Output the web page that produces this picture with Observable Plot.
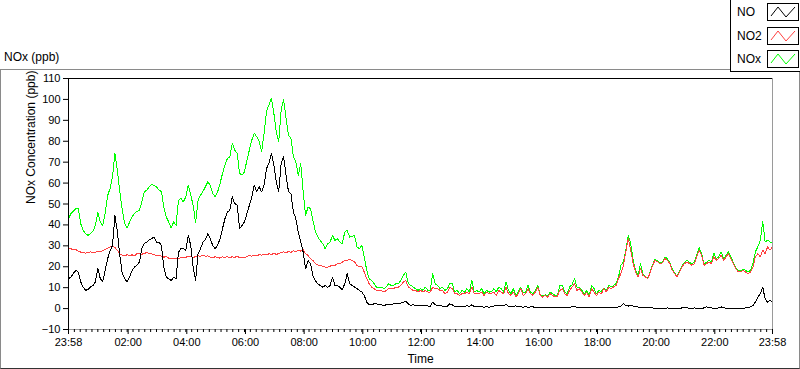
<!DOCTYPE html>
<html><head><meta charset="utf-8">
<script src="https://cdn.jsdelivr.net/npm/d3@7"></script>
<script src="https://cdn.jsdelivr.net/npm/@observablehq/plot@0.6"></script>
<style>
body{margin:0;background:#fff;font-family:"Liberation Sans",Arial,sans-serif;color:#000;}
#wrap{position:relative;width:800px;height:369px;overflow:hidden;background:#fff;}
#frame{position:absolute;left:0;top:69px;width:798px;height:298px;border-top:1px solid #8a8a8a;border-left:1px solid #8a8a8a;border-right:1px solid #8a8a8a;border-bottom:1px solid #333;}
#title{position:absolute;left:4px;top:50px;font-size:12px;}
#chart{position:absolute;left:0;top:69px;}
#legend{position:absolute;left:730px;top:0;width:70px;height:71px;border-left:1px solid #000;border-bottom:1px solid #000;background:#fff;}
.li{position:absolute;left:6px;font-size:12px;}
.lb{position:absolute;left:36px;width:30px;height:16px;border:1px solid #000;background:#fff;}
</style></head><body>
<div id="wrap">
  <div id="frame"></div>
  <div id="title">NOx (ppb)</div>
  <div id="chart"></div>
  <div id="legend"></div>
</div>
<script>
// time grid: samples every 5 minutes starting 23:58, over 24 h
const startLabel = "23:58";
const stepMinutes = 5;

const seriesNames = ["NO", "NO2", "NOx"];
const seriesColors = ["#000000", "#ff4040", "#00ff00"];

const NO = [
 14.3,15,17,18.2,17.5,12.7,10.3,8.7,9.2,10.3,
 11,12.7,19.3,14.3,13,18.2,23.8,27.5,30.2,44.6,
 36.6,25.4,16.6,14.3,12.7,15,18.2,19.9,20.7,22.3,
 28.7,31,31.8,33,33.4,34.2,31.8,31.8,30.2,19.9,
 15,14.3,13.4,15,14.3,27,28.6,28.6,27.8,35,
 30.2,19.9,13.4,26.2,28.6,31.8,33,35.8,
 33.4,30.2,28.6,30.2,33.4,38.2,43,46.2,47,53.4,
 50.2,49.4,38.2,39.8,41.4,45.4,49.4,53.4,59,55.8,
 58.2,55.8,59,67,69.4,74.2,68.6,60.6,55.8,69.4,
 72.6,63.8,55.8,55,46.2,43,36.6,31.8,27,19,
 23,21.4,15.8,13.4,11.8,11,10.2,11,10.2,11,
 15,11,11,10.2,9,11.8,16.6,11.8,
 11.1,10.3,9.5,8.7,7.9,6.3,3.1,1.8,1.8,2.3,
 2.3,1.8,1.8,1.5,1.8,2.2,1.8,2.3,2.2,2.3,
 2.6,3.1,3.4,2.3,1.5,1.8,1.5,1.2,1.5,1.2,
 1.5,1.2,1.2,3.1,1.8,1.5,1.5,1.2,0.9,1.2,
 2.3,1.8,0.9,1.2,0.9,1.2,0.9,1.5,0.9,1.8,
 0.9,0.9,1.2,0.9,0.6,0.9,0.7,0.8,
 1.2,1.5,1.5,1.2,1.5,2,1,0.8,1,1.3,
 1,0.8,0.7,1,0.6,0.8,0.8,0.6,0.7,0.5,
 0.6,0.5,0.5,0.6,0.4,0.5,0.7,0.5,0.4,0.5,
 0.5,0.6,0.8,1.2,0.5,0.5,0.4,0.3,0.4,0.3,
 0.4,0.6,0.4,0.3,0.5,0.4,0.3,0.4,0.5,0.4,
 0.6,0.8,1.2,2.3,1.5,1.2,
 1.5,1.2,1.0,0.8,0.5,0.4,0.3,0.3,0.3,0.3,
 0.2,0.2,0.2,0.2,0.2,0.3,0.2,0.2,0.2,0.2,
 0.2,0.3,0.5,0.4,0.2,0.2,0.3,0.2,0.2,0.2,
 0.3,0.8,0.4,0.3,0.2,0.2,0.3,0.8,0.4,0.2,
 0.2,0.2,0.2,0.2,0.2,0.2,0.2,0.3,0.5,0.8,
 1.5,3.1,5.5,7.1,10.3,4.5,3.1,3.9,3.1
];

const NO2 = [
 28.9,28.6,28.0,28.2,27.5,27.0,26.9,26.5,26.8,27.1,
 26.6,27.0,27.2,27.3,27.6,28.3,28.8,29.4,29.9,29.3,
 27.8,26.2,25.6,25.2,25.8,25.3,25.7,25.2,26.2,26.4,
 26.0,26.3,26.8,26.4,26.1,25.8,25.3,25.5,25.0,24.6,
 24.8,24.1,23.8,24.0,24.2,23.7,24.4,24.6,24.5,25.1,
 24.9,24.5,24.8,25.2,25.0,25.5,25.0,25.2,
 24.6,24.2,24.8,24.5,24.1,24.7,24.4,24.9,24.3,24.8,
 24.5,25.0,24.4,24.7,24.2,24.9,25.3,25.0,25.6,25.2,
 25.8,25.5,26.0,25.7,26.2,25.8,26.5,25.9,26.3,26.8,
 27.2,26.6,27.4,26.9,27.6,27.2,28.0,27.5,28.4,26.2,
 25.4,23.8,23.0,21.4,20.9,20.6,20.3,19.8,19.8,20.3,
 20.6,20.6,21.4,21.4,22.2,23.0,23.0,23.5,
 23.1,22.3,20.7,19.9,19.9,17.5,14.3,11.9,10.3,9.5,
 8.7,8.7,8.7,7.9,8.7,9.5,9.5,9.5,10.3,10.3,
 11.1,12.7,13.5,10.3,9.5,8.7,8.7,7.9,8.7,7.9,
 8.7,7.9,7.9,10.3,9.5,9.5,8.7,8.7,7.1,7.9,
 10.3,9.5,7.1,7.1,6.3,7.1,7.1,7.9,7.1,10.3,
 7.1,7.1,7.1,7.9,6.3,7.9,7.1,7.3,
 7.9,6.3,8.7,7.9,7.1,10.3,7.1,6.3,7.9,5.5,
 7.1,9.5,6.3,7.1,9.5,7.1,6.3,7.9,10.3,6.3,
 5.5,6.3,5.5,7.1,6.3,5.5,6.0,8.7,9.5,7.1,
 6.3,8.7,10.3,11.9,8.7,9.5,7.9,6.3,7.9,5.5,
 9.5,7.9,6.3,7.9,7.1,9.5,7.9,10.3,9.5,10.3,
 11.1,14.3,16.7,20.7,27.1,33.5,
 27.9,21.5,17.5,15.1,19.1,15.9,15.1,14.3,17.5,20.7,
 23.1,22.3,21.5,21.8,23.9,23.1,21.5,18.3,16.7,15.1,
 17.5,19.9,21.5,22.3,21.5,20.7,21.5,24.7,27.9,25.5,
 20.7,21.5,22.3,21.5,24.7,23.1,23.9,25.5,23.1,24.7,
 26.3,23.9,21.5,19.1,17.5,17.5,18.3,17.5,16.7,17.5,
 19.9,24.7,26.3,24.7,27.9,26.3,29.5,28.0,29.5
];

const NOx = [
 43,45.4,46.5,47.8,48,40.6,37.4,35.8,35,35.8,
 37,39.8,46,41.4,39.8,45.4,54,57.4,63,74.2,
 66,55.8,47,40.6,38.5,41.4,43.8,45.4,46.5,47,
 51,55.8,56.6,58.2,59.3,59,58.2,56.6,56,48.6,
 43.8,41.4,38.5,41.4,39.8,51.8,52.6,51,53.4,59,
 54.2,49.4,41,51.8,54.2,56,58.2,60.6,
 59,55,53.4,55.8,59.8,64.6,68.6,71.8,72.6,79,
 75.8,74.2,64.6,63.8,65.4,71,75.8,80.6,83.8,82.2,
 79.8,75,83.8,94.2,97.4,100.6,93.4,84.6,79.8,95,
 99.8,91,83,81.4,72.6,70.2,63.8,69.4,55.8,44.6,
 48.6,47.8,42.2,36.6,34.2,32.6,31,28.6,31,31.8,
 35,32.6,33.4,31.8,31,36.6,37.4,34.2,
 34.3,35.1,29.5,28.7,30.3,24.7,18.3,14.3,13.5,11.9,
 10.3,10.3,10.3,9.5,10.3,11.9,11.1,11.1,11.9,11.9,
 13.5,15.9,17.5,11.9,11.1,10.3,9.5,8.7,9.5,8.7,
 10.3,8.7,8.7,16.7,11.9,11.1,9.5,10.3,8.7,9.5,
 11.9,11.9,7.9,8.7,7.1,8.7,7.9,9.5,7.9,13.5,
 7.9,8.7,7.9,9.5,7.1,8.7,7.9,8,
 9.5,7.9,10.3,9.5,7.9,12.7,8.7,7.1,9.5,6.3,
 7.9,10.3,7.9,7.9,11.1,7.9,7.1,8.7,11.1,6.3,
 6,6.6,6,7.9,7.1,6.3,6.3,11.1,11.1,7.9,
 7.1,10.3,11.4,14.3,10.3,10.3,8.7,7.1,8.7,6.3,
 11.1,9.5,7.1,8.7,8.2,9.8,8.7,11.1,10.3,11.1,
 11.9,15.1,20.7,22.3,27.9,35.1,
 31.1,23.1,18.3,15.9,21.5,16.4,15.4,14.6,17.8,21.2,
 23.6,22.8,22,22.3,24.7,23.8,22,18.8,17,15.4,
 18,20.4,22.2,23.1,22.2,21.2,22.3,25.5,29.2,26.3,
 21.2,22.2,23.1,22.2,26.6,23.8,24.7,27.1,23.8,25.5,
 27.1,24.7,22,19.6,18,18,18.8,18.3,17.4,18.3,
 21.5,27.1,29.5,32.7,41.5,31.9,32.7,31.9,31.1
];

const xTickLabels = ["23:58","02:00","04:00","06:00","08:00","10:00","12:00","14:00","16:00","18:00","20:00","22:00","23:58"];
const yTicks = [-10,0,10,20,30,40,50,60,70,80,90,100,110];
const yDomain = [-10, 110];
const minorTickMinutes = 12;

// --- build
const base = new Date(2020, 0, 1, +startLabel.slice(0,2), +startLabel.slice(3));
const span = 24 * 60;
const end = new Date(base.getTime() + span * 60000);
const series = [NO, NO2, NOx];
const rows = [];
series.forEach((arr, k) => arr.forEach((v, i) => rows.push({t: new Date(base.getTime() + i * stepMinutes * 60000), v, s: seriesNames[k]})));

const majorDates = xTickLabels.map((lab, i) => {
  if (i === 0) return base;
  if (i === xTickLabels.length - 1) return end;
  return new Date(2020, 0, 2, +lab.slice(0,2), +lab.slice(3));
});
const labelOf = new Map(majorDates.map((d, i) => [+d, xTickLabels[i]]));
const minorDates = d3.range(0, span + 1, minorTickMinutes).map(m => new Date(base.getTime() + m * 60000));

const lineFor = (name) => Plot.line(rows.filter(d => d.s === name), {
  x: "t", y: "v", stroke: seriesColors[seriesNames.indexOf(name)], strokeWidth: 1, shapeRendering: "crispEdges"
});

const chart = Plot.plot({
  width: 800, height: 300,
  marginTop: 9, marginBottom: 40, marginLeft: 68, marginRight: 28,
  style: {background: "transparent", fontFamily: "'Liberation Sans', Arial, sans-serif", fontSize: "11px", color: "#000", overflow: "visible"},
  x: {type: "time", domain: [base, end]},
  y: {domain: yDomain},
  marks: [
    lineFor("NOx"),
    lineFor("NO2"),
    lineFor("NO"),
    Plot.ruleY([yDomain[0]], {stroke: "#9a9a9a"}),
    Plot.ruleX([end], {stroke: "#9a9a9a"}),
    Plot.ruleY([yDomain[1]], {stroke: "#000"}),
    Plot.ruleX([base], {stroke: "#000"}),
    Plot.axisY({ticks: yTicks, tickSize: 5, tickPadding: 3, label: null, anchor: "left"}),
    Plot.axisX({ticks: minorDates, tickSize: 3, tickFormat: () => "", label: null}),
    Plot.axisX({ticks: majorDates, tickSize: 5, tickPadding: 4, tickFormat: d => labelOf.get(+d), label: null}),
    Plot.text(["NOx Concentration (ppb)"], {frameAnchor: "left", dx: -37, rotate: -90, fontSize: 12}),
    Plot.text(["Time"], {frameAnchor: "bottom", dy: 33, fontSize: 12})
  ]
});
document.getElementById("chart").appendChild(chart);

// legend
const legend = document.getElementById("legend");
seriesNames.forEach((name, i) => {
  const top = 4 + i * 23.5;
  const lab = document.createElement("div");
  lab.className = "li"; lab.style.top = (top + 1) + "px"; lab.textContent = name;
  legend.appendChild(lab);
  const box = document.createElement("div");
  box.className = "lb"; box.style.top = (top - 1) + "px";
  box.innerHTML = `<svg width="30" height="16"><polyline points="3,12 10,3 18,13 27,3" fill="none" stroke="${seriesColors[i]}" stroke-width="1"/></svg>`;
  legend.appendChild(box);
});
</script>
</body></html>
